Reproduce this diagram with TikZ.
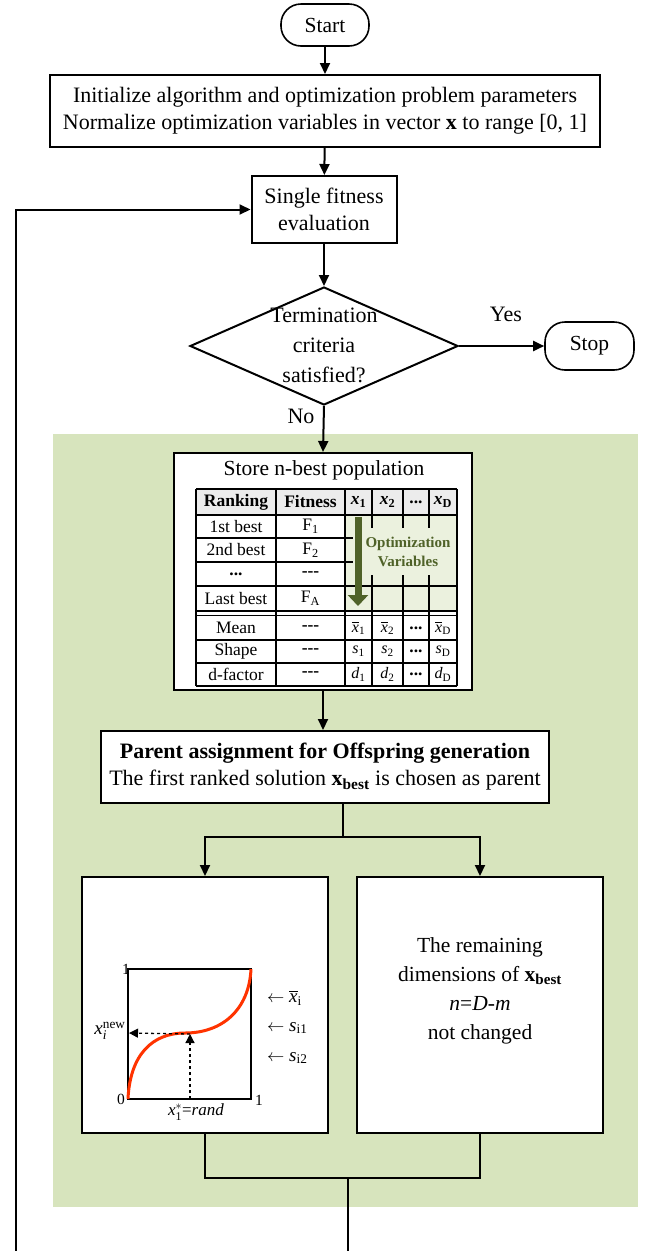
\documentclass[tikz,border=0pt]{standalone}
\usepackage{amsmath}
\usepackage{fontspec}
\setmainfont{Liberation Serif}
\usetikzlibrary{shapes.geometric,arrows.meta}
\definecolor{bggreen}{RGB}{215,228,189}
\definecolor{lightgreen}{RGB}{235,241,222}
\definecolor{olivedark}{RGB}{79,98,40}
\definecolor{hdrgray}{RGB}{236,236,236}
\definecolor{curvered}{RGB}{255,51,0}
\tikzset{
  box/.style={draw, line width=2pt, fill=white, inner sep=0pt},
  term/.style={draw, line width=1.6pt, rounded corners=20pt, fill=white, inner sep=0pt, font=\fontsize{21.5}{24}\selectfont},
  flow/.style={line width=2pt, -{Triangle[length=11pt,width=10pt]}},
  conn/.style={line width=2pt},
  txt/.style={font=\fontsize{22}{27}\selectfont, align=center},
  tb/.style={font=\fontsize{17.5}{19}\selectfont, inner sep=0pt},
  tbs/.style={font=\fontsize{16}{17}\selectfont, inner sep=0pt},
  grid/.style={line width=1.6pt},
  gl/.style={font=\fontsize{15.5}{17}\selectfont, inner sep=0pt},
  gla/.style={font=\fontsize{19}{20}\selectfont, inner sep=0pt, anchor=west},
}
\begin{document}
\begin{tikzpicture}[x=1pt,y=-1pt]
\useasboundingbox (0,0) rectangle (651,1251);
% green background
\fill[bggreen] (53,434) rectangle (638,1207);

% nodes
\node[term, minimum width=88pt, minimum height=42pt] (start) at (325,25) {Start};
\node[box, txt, minimum width=550pt, minimum height=72pt] (init) at (325,111)
  {Initialize algorithm and optimization problem parameters\\Normalize optimization variables in vector \textbf{x} to range [0, 1]};
\node[box, txt, minimum width=145pt, minimum height=67pt] (fit) at (324,209.5) {Single fitness\\evaluation};
\node[draw, line width=2pt, diamond, fill=white, minimum width=268pt, minimum height=118pt, inner sep=0pt] (dec) at (324,346) {};
\node[txt, font=\fontsize{22}{30}\selectfont] (dectext) at (324,345) {Termination\\criteria\\satisfied?};
\node[term, minimum width=89pt, minimum height=48pt] (stop) at (589.5,346) {Stop};
\node[txt] (yes) at (506,314) {Yes};
\node[txt] (no) at (301,416) {No};

% table box
\node[box, minimum width=298pt, minimum height=237pt] (tbox) at (323,571.5) {};
\node[font=\fontsize{21.5}{24}\selectfont, inner sep=0pt] (store) at (324,470) {Store n-best population};

% table fills
\fill[hdrgray] (196,489) rectangle (457,515);
\fill[lightgreen] (345,515) rectangle (457,611);
% grid
\foreach \yy in {489,515,538,562,586,611,615.5,640,663,686} \draw[grid] (196,\yy) -- (457,\yy);
\foreach \xx in {196,276,345,372,403,429,457} \draw[grid] (\xx,489) -- (\xx,686);
% overlay
\fill[lightgreen] (353,528) rectangle (456,575);
\draw[olivedark, line width=7pt, -{Triangle[length=11pt,width=20pt]}] (358,517) -- (358,606);
\node[font=\bfseries\fontsize{15}{19}\selectfont, text=olivedark, align=center, inner sep=0pt] (optv) at (408,552) {Optimization\\Variables};

% table texts
\node[tb] (h1) at (236,502) {\textbf{Ranking}};
\node[tb] (h2) at (310.5,502) {\textbf{Fitness}};
\node[tb] (h3) at (358.5,502) {\textbf{\textit{x}\textsubscript{1}}};
\node[tb] (h4) at (387.5,502) {\textbf{\textit{x}\textsubscript{2}}};
\node[tb] (h5) at (416,502) {\textbf{...}};
\node[tb] (h6) at (443,502) {\textbf{\textit{x}\textsubscript{D}}};
\node[tb] (r1a) at (236,526.5) {1st best};
\node[tb] (r1b) at (310.5,526.5) {F\textsubscript{1}};
\node[tb] (r2a) at (236,550) {2nd best};
\node[tb] (r2b) at (310.5,550) {F\textsubscript{2}};
\node[tb] (r3a) at (236,574) {\textbf{...}};
\node[tb] (r3b) at (310.5,574) {\textbf{-{}-{}-}};
\node[tb] (r4a) at (236,598.5) {Last best};
\node[tb] (r4b) at (310.5,598.5) {F\textsubscript{A}};
\node[tb] (m0) at (236,628) {Mean};
\node[tb] (m1) at (310.5,628) {\textbf{-{}-{}-}};
\node[tbs] (m2) at (358.5,628) {$\overline{\text{\textit{x}}}$\textsubscript{1}};
\node[tbs] (m3) at (387.5,628) {$\overline{\text{\textit{x}}}$\textsubscript{2}};
\node[tb] (m4) at (416,628) {\textbf{...}};
\node[tbs] (m5) at (443,628) {$\overline{\text{\textit{x}}}$\textsubscript{D}};
\node[tb] (s0) at (236,651.5) {Shape};
\node[tb] (s1) at (310.5,651.5) {\textbf{-{}-{}-}};
\node[tbs] (s2) at (358.5,651.5) {\textit{s}\textsubscript{1}};
\node[tbs] (s3) at (387.5,651.5) {\textit{s}\textsubscript{2}};
\node[tb] (s4) at (416,651.5) {\textbf{...}};
\node[tbs] (s5) at (443,651.5) {\textit{s}\textsubscript{D}};
\node[tb] (d0) at (236,674.5) {d-factor};
\node[tb] (d1) at (310.5,674.5) {\textbf{-{}-{}-}};
\node[tbs] (d2) at (358.5,674.5) {\textit{d}\textsubscript{1}};
\node[tbs] (d3) at (387.5,674.5) {\textit{d}\textsubscript{2}};
\node[tb] (d4) at (416,674.5) {\textbf{...}};
\node[tbs] (d5) at (443,674.5) {\textit{d}\textsubscript{D}};

% parent box
\node[box, txt, minimum width=448pt, minimum height=72pt] (parent) at (325,767)
  {\textbf{Parent assignment for Offspring generation}\\The first ranked solution \textbf{x}\textsubscript{\textbf{best}} is chosen as parent};

% lower boxes
\node[box, minimum width=246pt, minimum height=256pt] (left) at (205,1005) {};
\node[box, minimum width=246pt, minimum height=256pt] (right) at (480,1005) {};
\node[txt, font=\fontsize{21.5}{29}\selectfont] (rtext) at (480,991)
  {The remaining\\dimensions of \textbf{x}\textsubscript{\textbf{best}}\\\textit{n}=\textit{D}-\textit{m}\\not changed};

% graph inside left box
\coordinate (g00) at (128,1099);
\coordinate (g11) at (251,969);
\draw[line width=1.6pt] (g00) rectangle (g11);
\draw[curvered, line width=3pt] (128,1099) .. controls (130,1055) and (152,1033) .. (185,1033)
   .. controls (222,1033) and (249,1010) .. (251,969);
\coordinate (xstar) at (190,1099);
\coordinate (xcurve) at (190,1034);
\coordinate (xnew) at (129,1033);
\draw[line width=1.3pt, dashed, -{Triangle[length=9pt,width=9pt]}] (xstar) -- (xcurve);
\draw[line width=1.3pt, dashed, -{Triangle[length=9pt,width=9pt]}] (xcurve) -- (xnew);
\node[gl] (l1) at (126,969) {1};
\node[gl] (l0) at (121,1099) {0};
\node[gl] (l1r) at (259,1100) {1};
\node[gl, font=\fontsize{17}{18}\selectfont] (lrand) at (196,1112) {$\text{\textit{x}}_{\text{1}}^{*}$=\textit{rand}};
\node[font=\fontsize{19}{20}\selectfont, inner sep=0pt] (lnew) at (110,1031) {$\text{\textit{x}}_{\text{\textit{i}}}^{\text{new}}$};
\node[gla] (a1) at (267,998) {$\leftarrow$ $\overline{\text{\textit{x}}}$\textsubscript{i}};
\node[gla] (a2) at (267,1028) {$\leftarrow$ \textit{s}\textsubscript{i1}};
\node[gla] (a3) at (267,1058) {$\leftarrow$ \textit{s}\textsubscript{i2}};

% coordinates for connectors
\coordinate (split) at (343,837);
\coordinate (join) at (348,1178);
\coordinate (bottomC) at (348,1251);
\coordinate (loopB) at (16,1251);

% connectors
\draw[flow] (start) -- (init);
\draw[flow] (init) -- (fit);
\draw[flow] (fit) -- (dec.north);
\draw[flow] (dec.east) -- (stop.west);
\draw[flow] (dec.south) -- (tbox.north);
\draw[flow] (tbox.south) -- (tbox.south |- parent.north);
\draw[conn] (parent.south -| split) -- (split);
\draw[flow] (split) -| (left.north);
\draw[flow] (split) -| (right.north);
\draw[conn] (left.south) |- (join) -| (right.south);
\draw[conn] (join) -- (bottomC);
\draw[flow] (loopB) |- (fit.west);
\end{tikzpicture}
\end{document}
